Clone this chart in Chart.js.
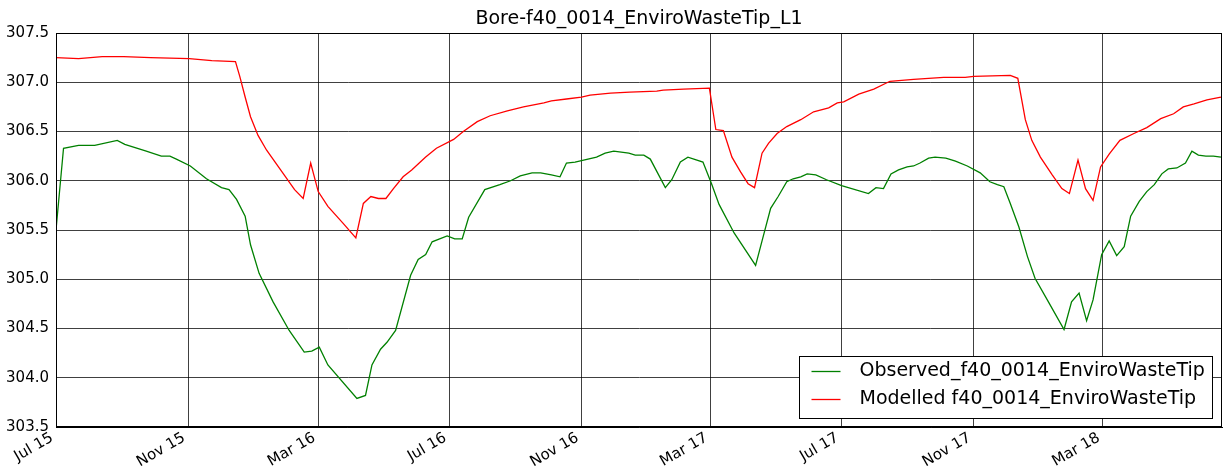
<!DOCTYPE html>
<html>
<head>
<meta charset="utf-8">
<script src="https://cdn.jsdelivr.net/npm/chart.js@4/dist/chart.umd.min.js"></script>
<style>
  html, body { margin: 0; padding: 0; background: #fff; }
  #wrap { width: 1226px; height: 474px; }
</style>
</head>
<body>
<div id="wrap"><canvas id="boreChart" width="1226" height="474"></canvas></div>
<script>
// days counted from 1 Jul 2015
var tickDays = [0, 123, 244, 366, 489, 609, 731, 854, 974];
var tickLabels = ['Jul 15', 'Nov 15', 'Mar 16', 'Jul 16', 'Nov 16', 'Mar 17', 'Jul 17', 'Nov 17', 'Mar 18'];

var obsDays = [0, 7, 21, 36, 57, 64, 84, 98, 106, 112, 125, 140, 154, 161, 168, 176, 181, 189, 202, 217,
  231, 238, 245, 253, 280, 288, 294, 302, 308, 316, 330, 337, 344, 350, 364, 371, 378, 384, 399, 413,
  423, 432, 443, 451, 461, 469, 475, 483, 503, 511, 519, 533, 539, 547, 553, 567, 573, 581, 588, 602,
  610, 617, 631, 651, 657, 665, 672, 680, 686, 693, 699, 707, 717, 731, 756, 763, 770, 777, 784, 792,
  798, 804, 812, 818, 828, 837, 848, 860, 869, 876, 882, 888, 896, 904, 911, 924, 938, 945, 952, 959,
  965, 973, 980, 987, 994, 1000, 1008, 1015, 1022, 1029, 1035, 1043, 1051, 1057, 1063, 1070, 1077, 1084];
var obsLevel = [305.50, 306.33, 306.36, 306.36, 306.41, 306.37, 306.30, 306.25, 306.25, 306.22, 306.15, 306.02, 305.93, 305.91, 305.81, 305.64, 305.35, 305.06, 304.77, 304.48,
  304.26, 304.27, 304.31, 304.13, 303.79, 303.82, 304.13, 304.29, 304.36, 304.48, 305.04, 305.20, 305.25, 305.38, 305.44, 305.41, 305.41, 305.63, 305.91, 305.96,
  306.00, 306.05, 306.08, 306.08, 306.06, 306.04, 306.18, 306.19, 306.24, 306.28, 306.30, 306.28, 306.26, 306.26, 306.22, 305.93, 306.01, 306.19, 306.24, 306.19,
  305.97, 305.76, 305.47, 305.14, 305.39, 305.72, 305.84, 305.99, 306.02, 306.04, 306.07, 306.06, 306.01, 305.95, 305.87, 305.93, 305.92, 306.07, 306.11, 306.14,
  306.15, 306.18, 306.23, 306.24, 306.23, 306.20, 306.15, 306.08, 305.99, 305.96, 305.94, 305.77, 305.53, 305.23, 305.01, 304.76, 304.49, 304.77, 304.86, 304.58,
  304.79, 305.25, 305.39, 305.24, 305.33, 305.64, 305.79, 305.89, 305.96, 306.07, 306.12, 306.13, 306.18, 306.30, 306.26, 306.25, 306.25, 306.24];

var modDays = [0, 21, 43, 63, 88, 124, 145, 167, 171, 176, 181, 188, 196, 209, 222, 230, 237, 244, 253, 267,
  279, 286, 293, 300, 307, 314, 323, 331, 339, 344, 354, 370, 379, 392, 404, 420, 435, 454, 461, 475,
  489, 497, 516, 534, 559, 565, 584, 608, 614, 621, 629, 637, 644, 650, 657, 663, 671, 680, 693, 705,
  719, 727, 733, 747, 761, 776, 798, 826, 846, 854, 888, 895, 902, 908, 916, 927, 936, 943, 951, 958,
  965, 972, 980, 990, 1003, 1015, 1028, 1040, 1049, 1059, 1071, 1084];
var modLevel = [307.25, 307.24, 307.26, 307.26, 307.25, 307.24, 307.22, 307.21, 307.06, 306.85, 306.65, 306.46, 306.31, 306.11, 305.91, 305.82, 306.18, 305.89, 305.74, 305.57,
  305.42, 305.77, 305.84, 305.82, 305.82, 305.92, 306.04, 306.11, 306.19, 306.24, 306.33, 306.42, 306.50, 306.60, 306.66, 306.71, 306.75, 306.79, 306.81, 306.83,
  306.85, 306.87, 306.89, 306.90, 306.91, 306.92, 306.93, 306.94, 306.52, 306.51, 306.24, 306.09, 305.97, 305.93, 306.28, 306.38, 306.48, 306.55, 306.62, 306.70,
  306.74, 306.79, 306.80, 306.88, 306.93, 307.01, 307.03, 307.05, 307.05, 307.06, 307.07, 307.04, 306.62, 306.41, 306.24, 306.06, 305.92, 305.87, 306.21, 305.92,
  305.80, 306.14, 306.27, 306.41, 306.48, 306.54, 306.63, 306.68, 306.75, 306.78, 306.82, 306.85];

var chartTitle = 'Bore-f40_0014_EnviroWasteTip_L1';
var seriesNames = ['Observed_f40_0014_EnviroWasteTip', 'Modelled f40_0014_EnviroWasteTip'];
var seriesColors = ['#008000', '#ff0000'];

function pairs(xs, ys) {
  var out = [];
  for (var i = 0; i < xs.length; i++) {
    out.push({x: xs[i], y: ys[i]});
  }
  return out;
}

var FONT = 'DejaVu Sans';

// title centred over the axes, frame round the plot, legend box lower right
var framePlugin = {
  id: 'frame',
  afterDraw: function (chart) {
    var c = chart.ctx;
    var a = chart.chartArea;
    c.save();
    c.fillStyle = '#000';
    c.font = '19px "' + FONT + '"';
    c.textAlign = 'center';
    c.textBaseline = 'middle';
    c.fillText(chartTitle, (a.left + a.right) / 2, 19);

    c.strokeStyle = '#000';
    c.lineWidth = 1;
    c.strokeRect(a.left + 0.5, a.top + 0.5, a.right - a.left - 1, a.bottom - a.top - 1);

    var bx = 799.5, by = 356.5, bw = 413, bh = 62;
    c.fillStyle = '#fff';
    c.fillRect(bx, by, bw, bh);
    c.strokeRect(bx, by, bw, bh);
    c.textAlign = 'left';
    for (var i = 0; i < seriesNames.length; i++) {
      var ly = 371.5 + i * 28;
      c.lineWidth = 1.3;
      c.strokeStyle = chart.data.datasets[i].borderColor;
      c.beginPath();
      c.moveTo(bx + 12, ly);
      c.lineTo(bx + 41, ly);
      c.stroke();
      c.fillStyle = '#000';
      c.fillText(seriesNames[i], bx + 60, ly);
    }
    c.restore();
  }
};

var ctx = document.getElementById('boreChart').getContext('2d');
var chart = new Chart(ctx, {
  type: 'line',
  data: {
    datasets: [{
      label: seriesNames[0],
      data: pairs(obsDays, obsLevel),
      borderColor: seriesColors[0],
      borderWidth: 1.3,
      pointRadius: 0,
      tension: 0,
      fill: false
    }, {
      label: seriesNames[1],
      data: pairs(modDays, modLevel),
      borderColor: seriesColors[1],
      borderWidth: 1.3,
      pointRadius: 0,
      tension: 0,
      fill: false
    }]
  },
  options: {
    responsive: false,
    animation: false,
    layout: { padding: { left: 0, right: 4, top: 33, bottom: 0 } },
    plugins: {
      legend: { display: false },
      tooltip: { enabled: false },
      title: { display: false }
    },
    scales: {
      x: {
        type: 'linear',
        min: 0,
        max: 1085,
        afterBuildTicks: function (scale) {
          scale.ticks = tickDays.map(function (d) { return {value: d}; });
        },
        afterFit: function (scale) { scale.height = 47; },
        ticks: {
          color: '#000',
          font: { family: FONT, size: 15 },
          minRotation: 30,
          maxRotation: 30,
          padding: 2,
          labelOffset: -4,
          autoSkip: false,
          callback: function (value) {
            var i = tickDays.indexOf(value);
            return i >= 0 ? tickLabels[i] : '';
          }
        },
        grid: { color: 'rgba(0,0,0,0.75)', lineWidth: 1, drawTicks: false },
        border: { display: true, color: '#000' }
      },
      y: {
        min: 303.5,
        max: 307.5,
        afterFit: function (scale) { scale.width = 56; },
        ticks: {
          stepSize: 0.5,
          color: '#000',
          font: { family: FONT, size: 15 },
          padding: 7,
          callback: function (value) { return value.toFixed(1); }
        },
        grid: { color: 'rgba(0,0,0,0.75)', lineWidth: 1, drawTicks: false },
        border: { display: true, color: '#000' }
      }
    }
  },
  plugins: [framePlugin]
});
</script>
</body>
</html>
